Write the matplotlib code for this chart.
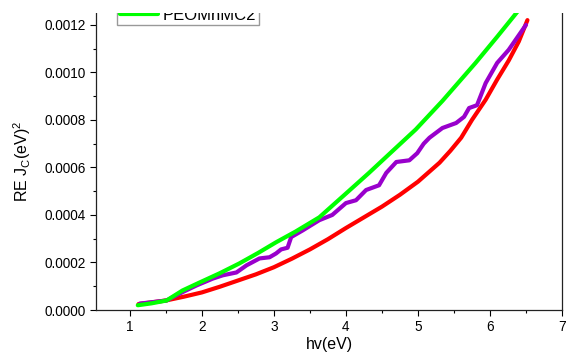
import matplotlib
matplotlib.use('Agg')
import matplotlib.pyplot as plt
from matplotlib.patches import Rectangle
from matplotlib.ticker import MultipleLocator, FormatStrFormatter

plt.rcParams['font.family'] = ['Liberation Sans', 'DejaVu Sans']
plt.rcParams['mathtext.default'] = 'regular'

# red curve
red_x = [1.12, 1.3, 1.5, 1.75, 2.0, 2.25, 2.5, 2.75, 3.0, 3.25, 3.5, 3.75, 4.0,
         4.25, 4.5, 4.75, 5.0, 5.15, 5.3, 5.45, 5.6, 5.75, 5.94, 6.1, 6.26, 6.4, 6.52]
red_y = [0.000025, 0.000032, 0.00004, 0.000056, 0.000074, 0.000098, 0.000124,
         0.00015, 0.00018, 0.000216, 0.000255, 0.000298, 0.000345, 0.00039,
         0.000435, 0.000485, 0.00054, 0.00058, 0.00062, 0.00067, 0.000725,
         0.0008, 0.000885, 0.00097, 0.00105, 0.00113, 0.00122]

# purple (measured) curve
pur_x = [1.14, 1.51, 1.73, 1.93, 2.15, 2.29, 2.48, 2.62, 2.80, 2.94, 3.03, 3.10,
         3.19, 3.24, 3.40, 3.63, 3.81, 4.0, 4.14, 4.28, 4.46, 4.56, 4.7, 4.88,
         4.99, 5.08, 5.16, 5.34, 5.53, 5.64, 5.71, 5.82, 5.94, 6.1, 6.26, 6.5]
pur_y = [0.000027, 0.00004, 0.000075, 0.000104, 0.000132, 0.000146, 0.000158,
         0.000188, 0.000217, 0.000222, 0.000238, 0.000255, 0.000262, 0.000307,
         0.000335, 0.000378, 0.0004, 0.00045, 0.000462, 0.000505, 0.000525,
         0.000577, 0.000623, 0.00063, 0.00066, 0.0007, 0.000725, 0.000766,
         0.000787, 0.000813, 0.00085, 0.000862, 0.000955, 0.00104, 0.001095, 0.0012]

# green curve (PEOMnMC2)
grn_x = [1.11, 1.3, 1.51, 1.73, 1.97, 2.25, 2.52, 2.78, 3.03, 3.3, 3.63, 4.0,
         4.32, 4.65, 4.97, 5.34, 5.8, 6.1, 6.42]
grn_y = [0.00002, 0.000028, 0.00004, 0.000082, 0.000116, 0.000155, 0.000196,
         0.00024, 0.000285, 0.00033, 0.00039, 0.00049, 0.000577, 0.00067,
         0.00076, 0.00088, 0.00104, 0.00115, 0.00127]

fig = plt.figure(figsize=(5.66, 3.53), dpi=100)
ax = fig.add_axes([96 / 566, 1 - 310 / 353, (562 - 96) / 566, (310 - 13) / 353])

ax.plot(red_x, red_y, color='#ff0000', lw=3, solid_capstyle='round', solid_joinstyle='round')
ax.plot(pur_x, pur_y, color='#9900cc', lw=3, solid_capstyle='round', solid_joinstyle='round')
ax.plot(grn_x, grn_y, color='#00ff00', lw=3, solid_capstyle='round', solid_joinstyle='round',
        label='PEOMnMC2')

ax.set_xlim(0.53, 7.0)
ax.set_ylim(0, 0.00125)
ax.xaxis.set_major_locator(MultipleLocator(1))
ax.xaxis.set_minor_locator(MultipleLocator(0.5))
ax.yaxis.set_major_locator(MultipleLocator(0.0002))
ax.yaxis.set_minor_locator(MultipleLocator(0.0001))
ax.yaxis.set_major_formatter(FormatStrFormatter('%.4f'))
ax.tick_params(which='major', direction='out', length=4.3, width=0.8, labelsize=9.8, pad=3)
ax.tick_params(which='minor', direction='out', length=2.2, width=0.8)
ax.spines['top'].set_visible(False)
for s in ['left', 'bottom', 'right']:
    ax.spines[s].set_linewidth(0.9)
    ax.spines[s].set_color('#222222')

ax.set_xlabel('hv(eV)', fontsize=11.5)
ax.xaxis.set_label_coords(0.5, -(349 - 310) / 297)
ax.xaxis.label.set_verticalalignment('baseline')
ax.set_ylabel('RE J$_C$(eV)$^2$', fontsize=11.5, labelpad=8)

ax.legend(loc='lower left', bbox_to_anchor=(117 / 566, 1 - 25 / 353),
          bbox_transform=fig.transFigure, borderaxespad=0, fontsize=12,
          fancybox=False, edgecolor='#999999', framealpha=1,
          handlelength=2.3, handletextpad=0.3, borderpad=0.15)

# the top strip of the original picture is cut off
fig.patches.append(Rectangle((0, 1 - 13 / 353), 1, 13 / 353, transform=fig.transFigure,
                             facecolor='white', edgecolor='none', zorder=10))

fig.savefig('out.png', dpi=100)
